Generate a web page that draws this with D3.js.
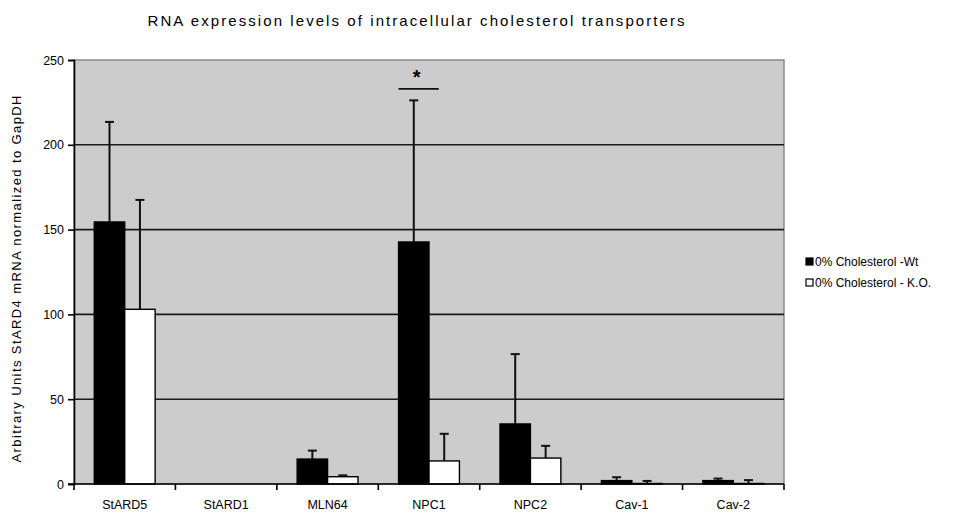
<!DOCTYPE html>
<html>
<head>
<meta charset="utf-8">
<script src="https://cdn.jsdelivr.net/npm/d3@7"></script>
<style>
  html, body { margin: 0; padding: 0; background: #ffffff; }
  svg { display: block; font-family: "Liberation Sans", Arial, sans-serif; }
</style>
</head>
<body>
<svg id="chart" width="970" height="516"></svg>
<script>
// Chart content
const titleText = "RNA expression levels of intracellular cholesterol transporters";
const yAxisLabel = "Arbitrary Units StARD4 mRNA normalized to GapDH";
const categories = ["StARD5", "StARD1", "MLN64", "NPC1", "NPC2", "Cav-1", "Cav-2"];
const seriesNames = ["0% Cholesterol -Wt", "0% Cholesterol - K.O."];
const wtValues = [154.5, 0, 14.7, 142.7, 35.4, 2.0, 2.0];
const wtErrors = [59, 0, 5, 83.5, 41.2, 2.0, 1.2];
const koValues = [103, 0, 4.3, 13.6, 15.3, 0.3, 0.3];
const koErrors = [64.5, 0, 0.8, 16, 7.2, 1.5, 2.0];
const yTicks = [0, 50, 100, 150, 200, 250];
// Significance marker over NPC1
const sigCategory = "NPC1";
const sigLevel = 233;
const sigLabel = "*";

const svg = d3.select("#chart");
const plot = { left: 74, right: 784, top: 60, bottom: 484 };

const x = d3.scaleBand().domain(categories).range([plot.left, plot.right]).paddingInner(0.4).paddingOuter(0.2);
const xSub = d3.scaleBand().domain(seriesNames).range([0, x.bandwidth()]);
const y = d3.scaleLinear().domain([0, 250]).range([plot.bottom, plot.top]);

// Plot background
svg.append("rect")
  .attr("x", plot.left).attr("y", plot.top)
  .attr("width", plot.right - plot.left).attr("height", plot.bottom - plot.top)
  .attr("fill", "#cccccc").attr("stroke", "#8a8a8a").attr("stroke-width", 1.5);

// Horizontal grid lines
svg.append("g").selectAll("line")
  .data(yTicks.filter(t => t > 0 && t < 250))
  .join("line")
  .attr("x1", plot.left).attr("x2", plot.right)
  .attr("y1", d => y(d)).attr("y2", d => y(d))
  .attr("stroke", "#1a1a1a").attr("stroke-width", 1.6);

// Bars
const rows = categories.map((c, i) => ({
  cat: c,
  items: [
    { s: seriesNames[0], v: wtValues[i], e: wtErrors[i], fill: "#000000" },
    { s: seriesNames[1], v: koValues[i], e: koErrors[i], fill: "#ffffff" }
  ]
}));

const groups = svg.append("g").selectAll("g")
  .data(rows).join("g")
  .attr("transform", d => `translate(${x(d.cat)},0)`);

groups.selectAll("rect")
  .data(d => d.items.filter(it => it.v > 0))
  .join("rect")
  .attr("x", d => xSub(d.s))
  .attr("y", d => y(d.v))
  .attr("width", xSub.bandwidth())
  .attr("height", d => y(0) - y(d.v))
  .attr("fill", d => d.fill)
  .attr("stroke", "#000").attr("stroke-width", 1.4);

// One-sided error bars
const errs = groups.selectAll("g.err")
  .data(d => d.items.filter(it => it.e > 0))
  .join("g").attr("class", "err");
errs.append("line")
  .attr("x1", d => xSub(d.s) + xSub.bandwidth() / 2)
  .attr("x2", d => xSub(d.s) + xSub.bandwidth() / 2)
  .attr("y1", d => y(d.v))
  .attr("y2", d => y(d.v + d.e))
  .attr("stroke", "#111").attr("stroke-width", 2);
errs.append("line")
  .attr("x1", d => xSub(d.s) + xSub.bandwidth() / 2 - 4.5)
  .attr("x2", d => xSub(d.s) + xSub.bandwidth() / 2 + 4.5)
  .attr("y1", d => y(d.v + d.e))
  .attr("y2", d => y(d.v + d.e))
  .attr("stroke", "#111").attr("stroke-width", 2);

// Y axis
const yAxis = d3.axisLeft(y).tickValues(yTicks).tickSize(6).tickPadding(4);
const gy = svg.append("g").attr("transform", `translate(${plot.left},0)`).call(yAxis);
gy.select(".domain").attr("stroke", "#000").attr("stroke-width", 1.6);
gy.selectAll(".tick line").attr("stroke", "#000").attr("stroke-width", 1.6);
gy.selectAll(".tick text").attr("font-size", 12.5).attr("fill", "#000")
  .attr("font-family", "'Liberation Sans', Arial, sans-serif");

// X axis: baseline, tick marks at category boundaries, labels centred
const gx = svg.append("g");
gx.append("line")
  .attr("x1", plot.left - 6).attr("x2", plot.right)
  .attr("y1", y(0)).attr("y2", y(0))
  .attr("stroke", "#000").attr("stroke-width", 1.6);
const boundaries = d3.range(categories.length + 1).map(i => plot.left + i * x.step());
gx.selectAll("line.tk").data(boundaries).join("line").attr("class", "tk")
  .attr("x1", d => d).attr("x2", d => d)
  .attr("y1", y(0)).attr("y2", y(0) + 6)
  .attr("stroke", "#000").attr("stroke-width", 1.6);
gx.selectAll("text").data(categories).join("text")
  .attr("x", d => x(d) + x.bandwidth() / 2)
  .attr("y", 509)
  .attr("text-anchor", "middle")
  .attr("font-size", 12.5)
  .text(d => d);

// Significance bracket and star
const sx0 = x(sigCategory);
const sx1 = x(sigCategory) + x.bandwidth() * 0.66;
svg.append("line")
  .attr("x1", sx0).attr("x2", sx1)
  .attr("y1", y(sigLevel)).attr("y2", y(sigLevel))
  .attr("stroke", "#111").attr("stroke-width", 1.8);
svg.append("text")
  .attr("x", (sx0 + sx1) / 2 - 2)
  .attr("y", y(sigLevel) - 5)
  .attr("text-anchor", "middle")
  .attr("font-size", 20).attr("font-weight", "bold")
  .text(sigLabel);

// Title
svg.append("text")
  .attr("x", 416).attr("y", 26)
  .attr("text-anchor", "middle")
  .attr("font-size", 15)
  .attr("textLength", 537).attr("lengthAdjust", "spacing")
  .text(titleText);

// Y axis title
svg.append("text")
  .attr("transform", `translate(21,${(plot.top + plot.bottom) / 2 + 7}) rotate(-90)`)
  .attr("text-anchor", "middle")
  .attr("font-size", 13)
  .attr("textLength", 367).attr("lengthAdjust", "spacing")
  .text(yAxisLabel);

// Legend
const legend = svg.append("g").attr("transform", "translate(806,0)");
const legendRows = legend.selectAll("g").data(seriesNames).join("g")
  .attr("transform", (d, i) => `translate(0,${262 + i * 21})`);
legendRows.append("rect")
  .attr("x", 0).attr("y", -4).attr("width", 7).attr("height", 7)
  .attr("fill", (d, i) => i === 0 ? "#000" : "#fff")
  .attr("stroke", "#000").attr("stroke-width", 1.2);
legendRows.append("text")
  .attr("x", 9).attr("y", 4)
  .attr("font-size", 12)
  .text(d => d);
</script>
</body>
</html>
